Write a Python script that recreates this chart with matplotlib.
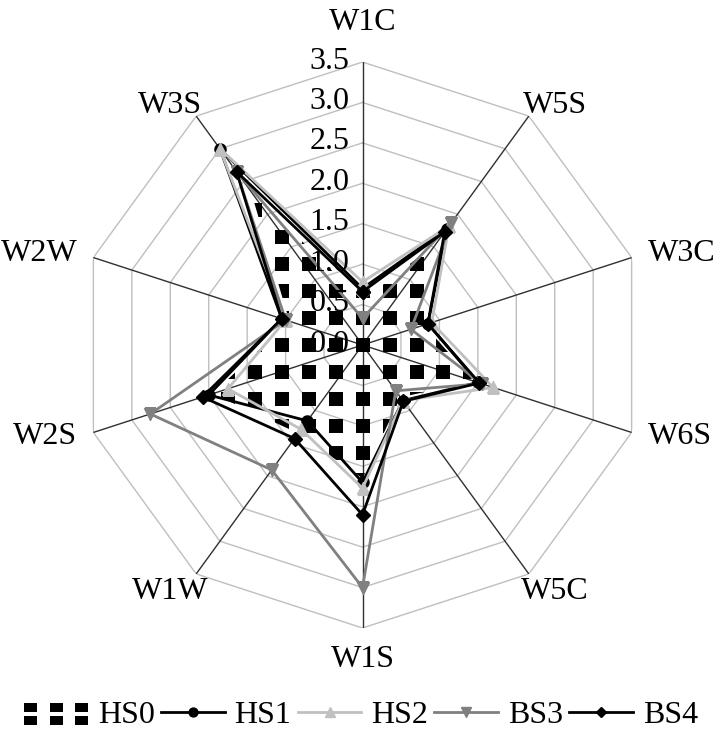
import numpy as np
import matplotlib
matplotlib.use('Agg')
import matplotlib.pyplot as plt
import matplotlib.transforms as mtransforms
from matplotlib.legend_handler import HandlerBase
from matplotlib.patches import Rectangle

categories = ['W1C', 'W5S', 'W3C', 'W6S', 'W5C', 'W1S', 'W1W', 'W2S', 'W2W', 'W3S']
hs0 = [0.55, 1.55, 0.80, 1.45, 0.80, 1.65, 1.35, 1.95, 0.95, 2.35]
hs1 = [0.70, 1.78, 0.85, 1.50, 0.85, 1.70, 1.16, 2.00, 1.05, 3.00]
hs2 = [0.78, 1.82, 0.90, 1.70, 0.85, 1.77, 1.29, 1.75, 1.00, 3.00]
bs3 = [0.33, 1.87, 0.63, 1.55, 0.70, 3.00, 1.91, 2.76, 1.00, 2.65]
bs4 = [0.66, 1.73, 0.85, 1.52, 0.86, 2.10, 1.43, 2.08, 1.05, 2.65]
series_labels = ['HS0', 'HS1', 'HS2', 'BS3', 'BS4']
ticks = [0.0, 0.5, 1.0, 1.5, 2.0, 2.5, 3.0, 3.5]
tick_labels = ['0.0', '0.5', '1.0', '1.5', '2.0', '2.5', '3.0', '3.5']

plt.rcParams['font.family'] = ['Liberation Serif', 'DejaVu Serif']
FS = 23

fig = plt.figure(figsize=(7.15, 7.35), dpi=100)
ax = fig.add_axes([0.1112, 0.1456, 0.7916, 0.770], projection='polar')
ax.set_theta_offset(np.pi / 2)
ax.set_theta_direction(-1)
ax.grid(False)
ax.spines['polar'].set_visible(False)
ax.set_xticks([])
ax.set_yticks([])
ax.patch.set_visible(False)

n = len(categories)
angles = np.arange(n) * 2 * np.pi / n
closed = np.append(angles, angles[0])


def close(v):
    return np.append(v, v[0])


# polygon grid
for t in ticks[1:]:
    ax.plot(closed, [t] * (n + 1), color='#bfbfbf', lw=1, zorder=1)
for a in angles:
    ax.plot([a, a], [0, ticks[-1]], color='#303030', lw=1, zorder=1.5)

# HS0 area with square pattern
poly = ax.fill(closed, close(hs0), facecolor='none', edgecolor='none', zorder=2)[0]
k = np.arange(-12, 13)
gx, gy = np.meshgrid(k, k)
step = 27 / 566
sc = ax.scatter(0.5 + gx.ravel() * step, 0.5 + gy.ravel() * step, s=92, marker='s',
                color='black', linewidths=0, transform=ax.transAxes, zorder=2.5)
sc.set_clip_path(poly)

styles = [
    (hs1, dict(color='black', marker='o', ms=8, lw=2)),
    (hs2, dict(color='#c0c0c0', marker='^', ms=9, lw=2)),
    (bs3, dict(color='#808080', marker='v', ms=9, lw=2)),
    (bs4, dict(color='black', marker='D', ms=7, lw=2)),
]
handles = []
for vals, st in styles:
    ln, = ax.plot(closed, close(vals), zorder=3, **st)
    handles.append(ln)

ax.set_ylim(0, ticks[-1])

# category labels placed just outside the outer ring
for a, c in zip(angles, categories):
    s, co = np.sin(a), np.cos(a)
    if abs(s) < 0.1:
        ha, va, dx = 'center', 'center', 0
        dy = 40 if co > 0 else -32
    elif abs(co) < 0.5:
        ha = 'left' if s > 0 else 'right'
        va, dx, dy = 'center', 16 * np.sign(s), 4 * np.sign(co)
    else:
        ha, va, dx = 'center', 'center', 26 * np.sign(s)
        dy = 11 if co > 0 else -18
    tr = mtransforms.offset_copy(ax.transData, fig=fig, x=dx, y=dy, units='dots')
    ax.text(a, ticks[-1], c, transform=tr, ha=ha, va=va, fontsize=FS)

off = mtransforms.offset_copy(ax.transData, fig=fig, x=-13, y=1, units='dots')
for t, lab in zip(ticks, tick_labels):
    ax.text(0, t, lab, transform=off, ha='right', va='center', fontsize=FS)


class SquaresHandler(HandlerBase):
    def create_artists(self, legend, orig_handle, xdescent, ydescent, width, height,
                       fontsize, trans):
        arts = []
        w = width * 0.2
        h = height * 0.4
        for i in range(3):
            for j in range(2):
                x = -xdescent + i * (width - w) / 2
                y = -ydescent + j * (height - h) - height * 0.1
                arts.append(Rectangle((x, y), w, h, facecolor='black',
                                      edgecolor='none', transform=trans))
        return arts


hs0_handle = Rectangle((0, 0), 1, 1)
fig.legend([hs0_handle] + handles, series_labels, loc='center',
           bbox_to_anchor=(0.505, 0.027), ncol=5, frameon=False, fontsize=FS,
           handlelength=2.0, handletextpad=0.3, columnspacing=0.2, markerscale=0.8,
           handler_map={Rectangle: SquaresHandler()})

fig.savefig('out.png', dpi=100)
